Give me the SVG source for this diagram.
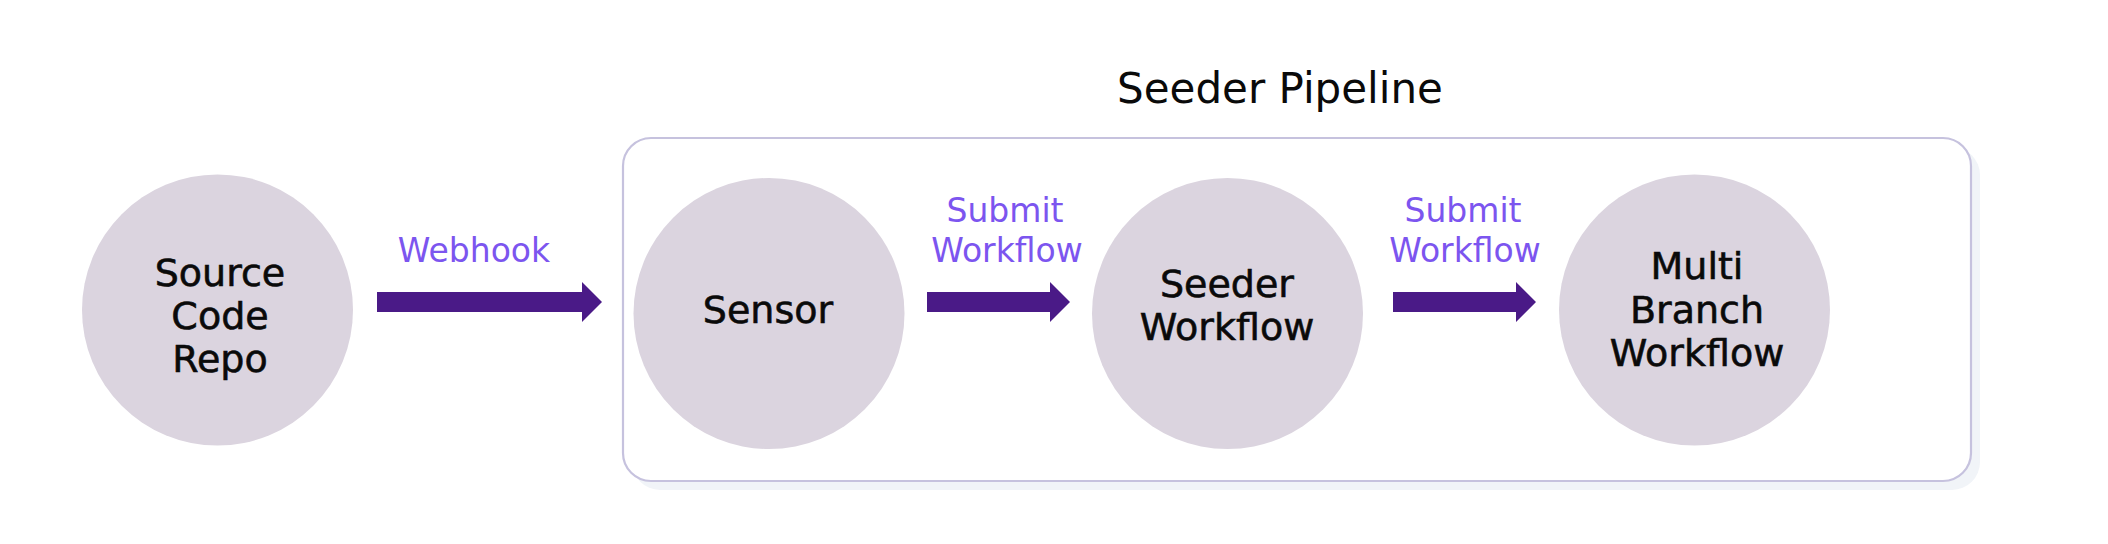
<svg xmlns="http://www.w3.org/2000/svg" width="2108" height="544" viewBox="0 0 2108 544">
<style>
.node circle{fill:#dbd4df}
.nt{font-family:"DejaVu Sans",sans-serif;font-size:38px;fill:#0a0a0a;stroke:#0a0a0a;stroke-width:0.6px;text-anchor:middle}
.lbl{font-family:"DejaVu Sans",sans-serif;font-size:33px;fill:#7c55ef;text-anchor:middle}
.title{font-family:"DejaVu Sans",sans-serif;font-size:42px;fill:#0a0a0a;text-anchor:middle}
.arrow{fill:#4a1a87}
</style>
<rect width="2108" height="544" fill="#ffffff"/>
<g id="seeder-pipeline">
<rect x="632" y="147" width="1348" height="343" rx="28" fill="#f1f4f8"/>
<rect x="623" y="138" width="1348" height="343" rx="28" fill="#ffffff" stroke="#c6c2de" stroke-width="2.2"/>
<text class="title" x="1280" y="103">Seeder Pipeline</text>
</g>
<g id="connectors">
<polygon class="arrow" points="377,292 582,292 582,282 602,302 582,322 582,312 377,312"/>
<text class="lbl" x="474" y="262">Webhook</text>
<polygon class="arrow" points="927,292 1050,292 1050,282 1070,302 1050,322 1050,312 927,312"/>
<text class="lbl" x="1005" y="222">Submit</text>
<text class="lbl" x="1007" y="262">Workflow</text>
<polygon class="arrow" points="1393,292 1516,292 1516,282 1536,302 1516,322 1516,312 1393,312"/>
<text class="lbl" x="1463" y="222">Submit</text>
<text class="lbl" x="1465" y="262">Workflow</text>
</g>
<g id="source-code-repo" class="node">
<circle cx="217.5" cy="310" r="135.5"/>
<text class="nt" x="220" y="286">Source</text>
<text class="nt" x="220" y="329">Code</text>
<text class="nt" x="220" y="372">Repo</text>
</g>
<g id="sensor" class="node">
<circle cx="769" cy="313.5" r="135.5"/>
<text class="nt" x="768" y="323">Sensor</text>
</g>
<g id="seeder-workflow" class="node">
<circle cx="1227.5" cy="313.5" r="135.5"/>
<text class="nt" x="1227" y="297">Seeder</text>
<text class="nt" x="1227" y="340">Workflow</text>
</g>
<g id="multi-branch-workflow" class="node">
<circle cx="1694.5" cy="310" r="135.5"/>
<text class="nt" x="1697" y="279">Multi</text>
<text class="nt" x="1697" y="323">Branch</text>
<text class="nt" x="1697" y="366">Workflow</text>
</g>
</svg>
